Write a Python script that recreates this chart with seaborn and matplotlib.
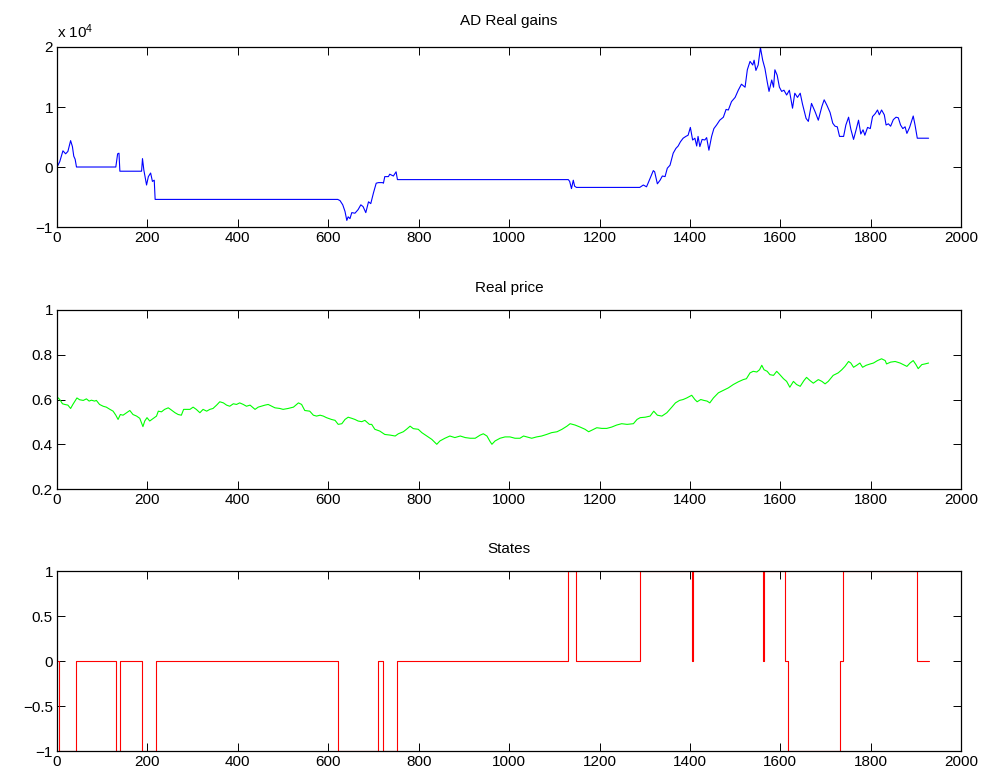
import numpy as np
import pandas as pd
import seaborn as sns
import matplotlib
matplotlib.use("Agg")
from matplotlib import pyplot as plt

# ---- data ----
# AD real gains (plotted in units of 1e4)
gain_x = [0, 6, 13, 19, 24, 30, 34, 37, 40, 43, 130, 134, 137, 139, 187, 189, 192, 198, 202, 207,
          211, 215, 217, 621, 626, 632, 637, 641, 644, 648, 652, 659, 666, 672, 677, 683, 689, 694,
          700, 706, 711, 720, 722, 725, 733, 736, 744, 750, 753, 1131, 1134, 1138, 1142, 1145, 1149,
          1289, 1297, 1304, 1308, 1315, 1319, 1322, 1328, 1334, 1339, 1345, 1350, 1356, 1363, 1369,
          1374, 1379, 1385, 1391, 1396, 1401, 1406, 1411, 1415, 1418, 1422, 1427, 1433, 1437, 1442,
          1448, 1453, 1459, 1466, 1474, 1480, 1485, 1492, 1500, 1507, 1514, 1522, 1527, 1533, 1539,
          1542, 1546, 1551, 1556, 1561, 1566, 1571, 1575, 1581, 1585, 1588, 1593, 1598, 1603, 1608,
          1614, 1620, 1627, 1632, 1638, 1644, 1649, 1657, 1662, 1669, 1677, 1684, 1692, 1697, 1703,
          1710, 1716, 1721, 1726, 1731, 1740, 1745, 1751, 1756, 1762, 1768, 1773, 1778, 1783, 1787,
          1793, 1799, 1804, 1810, 1815, 1819, 1824, 1830, 1834, 1839, 1844, 1850, 1856, 1861, 1866,
          1871, 1876, 1880, 1886, 1891, 1894, 1898, 1903, 1928]
gain_v = [0.0, 0.09, 0.27, 0.22, 0.26, 0.44, 0.34, 0.18, 0.13, 0.0, 0.0, 0.22, 0.23, -0.07, -0.07,
          0.14, -0.05, -0.30, -0.16, -0.10, -0.24, -0.22, -0.54, -0.54, -0.56, -0.63, -0.74, -0.89,
          -0.83, -0.86, -0.76, -0.77, -0.71, -0.63, -0.66, -0.76, -0.58, -0.61, -0.43, -0.27, -0.26,
          -0.26, -0.27, -0.16, -0.16, -0.12, -0.15, -0.08, -0.21, -0.21, -0.24, -0.36, -0.22, -0.32,
          -0.34, -0.34, -0.30, -0.33, -0.26, -0.13, -0.06, -0.08, -0.28, -0.22, -0.15, -0.16, -0.02,
          0.03, 0.23, 0.31, 0.35, 0.42, 0.48, 0.51, 0.53, 0.66, 0.45, 0.48, 0.35, 0.51, 0.34, 0.46,
          0.45, 0.49, 0.28, 0.51, 0.64, 0.70, 0.78, 0.83, 0.96, 0.95, 1.09, 1.16, 1.28, 1.38, 1.33,
          1.62, 1.76, 1.70, 1.78, 1.61, 1.70, 1.99, 1.78, 1.64, 1.42, 1.26, 1.45, 1.33, 1.62, 1.53,
          1.33, 1.26, 1.28, 1.20, 1.28, 0.98, 1.23, 1.16, 1.23, 1.05, 0.81, 0.76, 1.06, 0.92, 0.78,
          1.01, 1.12, 1.03, 0.91, 0.73, 0.68, 0.67, 0.51, 0.51, 0.70, 0.83, 0.63, 0.46, 0.63, 0.78,
          0.55, 0.62, 0.53, 0.66, 0.64, 0.84, 0.89, 0.95, 0.87, 0.95, 0.87, 0.70, 0.72, 0.68, 0.79,
          0.83, 0.82, 0.70, 0.64, 0.67, 0.56, 0.66, 0.78, 0.85, 0.70, 0.48, 0.48]

# real price
price_x = [0, 6, 12, 17, 24, 30, 35, 44, 50, 58, 65, 71, 76, 83, 87, 94, 102, 109, 117, 124, 130,
           135, 140, 146, 154, 161, 168, 176, 183, 190, 194, 199, 205, 213, 220, 224, 231, 238, 246,
           251, 261, 268, 275, 280, 286, 294, 301, 308, 316, 323, 331, 338, 345, 353, 360, 368, 375,
           382, 390, 397, 404, 412, 419, 427, 438, 445, 452, 460, 467, 475, 482, 493, 500, 511, 523,
           534, 541, 548, 559, 567, 574, 582, 589, 596, 607, 615, 622, 630, 637, 644, 652, 659, 666,
           674, 681, 691, 696, 703, 714, 725, 737, 748, 755, 766, 773, 781, 788, 799, 807, 818, 829,
           840, 847, 858, 869, 880, 892, 903, 914, 925, 936, 943, 951, 958, 962, 969, 980, 991, 1002,
           1013, 1024, 1032, 1039, 1050, 1061, 1072, 1083, 1094, 1106, 1117, 1128, 1135, 1146, 1157,
           1168, 1176, 1187, 1194, 1205, 1216, 1227, 1238, 1249, 1261, 1275, 1283, 1290, 1301, 1312,
           1320, 1328, 1338, 1349, 1360, 1368, 1377, 1385, 1393, 1404, 1411, 1416, 1424, 1431, 1438,
           1444, 1452, 1463, 1474, 1485, 1496, 1507, 1518, 1525, 1533, 1540, 1548, 1554, 1559, 1564,
           1571, 1577, 1585, 1592, 1599, 1607, 1614, 1621, 1629, 1636, 1644, 1652, 1658, 1666, 1673,
           1684, 1692, 1699, 1706, 1717, 1728, 1736, 1743, 1751, 1756, 1762, 1769, 1776, 1782, 1790,
           1799, 1806, 1815, 1824, 1832, 1835, 1844, 1854, 1865, 1872, 1880, 1887, 1894, 1900, 1905,
           1913, 1920, 1928]
price_v = [0.612, 0.600, 0.581, 0.578, 0.575, 0.560, 0.578, 0.607, 0.599, 0.596, 0.603, 0.593,
           0.597, 0.593, 0.596, 0.578, 0.570, 0.566, 0.556, 0.548, 0.530, 0.511, 0.533, 0.530, 0.541,
           0.551, 0.533, 0.526, 0.516, 0.479, 0.504, 0.519, 0.504, 0.516, 0.526, 0.548, 0.545, 0.556,
           0.563, 0.556, 0.541, 0.533, 0.530, 0.556, 0.556, 0.556, 0.566, 0.556, 0.541, 0.556, 0.548,
           0.556, 0.560, 0.575, 0.590, 0.585, 0.575, 0.570, 0.581, 0.578, 0.585, 0.578, 0.570, 0.575,
           0.556, 0.566, 0.570, 0.575, 0.578, 0.570, 0.563, 0.560, 0.556, 0.560, 0.566, 0.585, 0.578,
           0.551, 0.548, 0.530, 0.526, 0.530, 0.526, 0.519, 0.511, 0.507, 0.489, 0.492, 0.511, 0.521,
           0.516, 0.511, 0.504, 0.501, 0.507, 0.489, 0.489, 0.467, 0.459, 0.444, 0.441, 0.437, 0.447,
           0.456, 0.467, 0.481, 0.470, 0.467, 0.452, 0.437, 0.422, 0.400, 0.415, 0.427, 0.437, 0.430,
           0.437, 0.430, 0.427, 0.427, 0.441, 0.447, 0.437, 0.412, 0.400, 0.415, 0.427, 0.433, 0.433,
           0.427, 0.427, 0.437, 0.433, 0.427, 0.433, 0.437, 0.444, 0.452, 0.456, 0.467, 0.481, 0.492,
           0.486, 0.477, 0.467, 0.456, 0.467, 0.474, 0.471, 0.471, 0.477, 0.486, 0.492, 0.489, 0.492,
           0.511, 0.519, 0.521, 0.526, 0.548, 0.530, 0.526, 0.541, 0.566, 0.585, 0.596, 0.600, 0.607,
           0.619, 0.600, 0.590, 0.600, 0.596, 0.593, 0.585, 0.607, 0.630, 0.641, 0.652, 0.667, 0.679,
           0.689, 0.693, 0.719, 0.726, 0.723, 0.733, 0.753, 0.733, 0.726, 0.711, 0.708, 0.726, 0.711,
           0.693, 0.681, 0.655, 0.681, 0.667, 0.659, 0.684, 0.699, 0.684, 0.673, 0.689, 0.681, 0.670,
           0.681, 0.708, 0.719, 0.733, 0.748, 0.770, 0.763, 0.744, 0.753, 0.763, 0.744, 0.753, 0.759,
           0.763, 0.774, 0.782, 0.774, 0.759, 0.767, 0.770, 0.763, 0.756, 0.748, 0.763, 0.774, 0.756,
           0.738, 0.756, 0.759, 0.763]

# trading states, value holds from each change point to the next
state_x = [0, 4, 41, 130, 139, 187, 218, 621, 711, 720, 753, 1131, 1149, 1289, 1405, 1406,
           1562, 1563, 1610, 1618, 1731, 1738, 1903, 1928]
state_v = [0, -1, 0, -1, 0, -1, 0, -1, 0, -1, 0, 1, 0, 1, 0, 1, 0, 1, 0, -1, 0, 1, 0, 0]

sns.set_style("ticks")
plt.rcParams['font.family'] = ['Liberation Sans', 'DejaVu Sans']
plt.rcParams['mathtext.default'] = 'regular'
plt.rcParams['text.color'] = 'black'
plt.rcParams['xtick.direction'] = 'in'
plt.rcParams['ytick.direction'] = 'in'
plt.rcParams['xtick.top'] = True
plt.rcParams['ytick.right'] = True

fig = plt.figure(figsize=(9.87, 7.82), dpi=100)
ax1 = fig.add_axes([0.0578, 0.7097, 0.916, 0.2302])
ax2 = fig.add_axes([0.0578, 0.3746, 0.916, 0.2290])
ax3 = fig.add_axes([0.0578, 0.0396, 0.916, 0.2302])

gains = pd.DataFrame({'t': gain_x, 'g': gain_v})
sns.lineplot(data=gains, x='t', y='g', ax=ax1, color=(0, 0, 1), linewidth=0.8)
ax1.set_ylim(-1, 2)
ax1.set_yticks([-1, 0, 1, 2])
ax1.set_title('AD Real gains', fontsize=11, pad=16, color='black')
ax1.text(0, 1.035, r'x 10$^{4}$', transform=ax1.transAxes, fontsize=11, ha='left', va='bottom',
         color='black')

price = pd.DataFrame({'t': price_x, 'p': price_v})
sns.lineplot(data=price, x='t', y='p', ax=ax2, color=(0, 1, 0), linewidth=0.8)
ax2.set_ylim(0.2, 1)
ax2.set_yticks([0.2, 0.4, 0.6, 0.8, 1])
ax2.set_yticklabels(['0.2', '0.4', '0.6', '0.8', '1'])
ax2.set_title('Real price', fontsize=11, pad=13, color='black')

states = pd.DataFrame({'t': state_x, 's': state_v})
sns.lineplot(data=states, x='t', y='s', ax=ax3, color=(1, 0, 0), linewidth=0.8,
             drawstyle='steps-post')
ax3.set_ylim(-1, 1)
ax3.set_yticks([-1, -0.5, 0, 0.5, 1])
ax3.set_yticklabels(['\u22121', '\u22120.5', '0', '0.5', '1'])
ax3.set_title('States', fontsize=11, pad=13, color='black')

for ax in (ax1, ax2, ax3):
    ax.set_xlim(0, 2000)
    ax.set_xticks(np.arange(0, 2001, 200))
    ax.set_xlabel('')
    ax.set_ylabel('')
    ax.tick_params(labelsize=11, length=6, width=0.7, colors='black', pad=3)
    for sp in ax.spines.values():
        sp.set_visible(True)
        sp.set_linewidth(0.9)
        sp.set_color('black')

fig.savefig('out.png', dpi=100)
